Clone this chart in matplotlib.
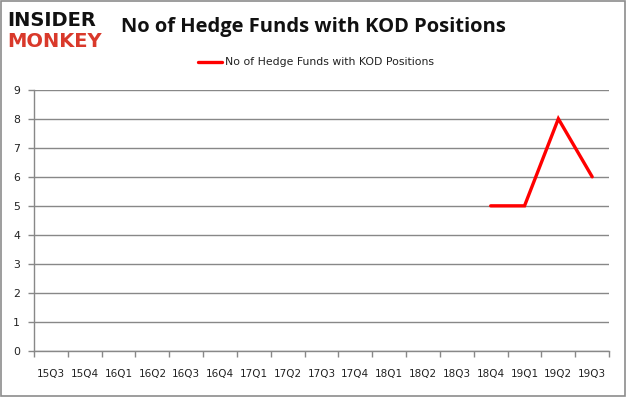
import numpy as np
import matplotlib
matplotlib.use("Agg")
import matplotlib.pyplot as plt
from matplotlib.patches import Rectangle

quarters = ["15Q3", "15Q4", "16Q1", "16Q2", "16Q3", "16Q4", "17Q1", "17Q2", "17Q3",
            "17Q4", "18Q1", "18Q2", "18Q3", "18Q4", "19Q1", "19Q2", "19Q3"]
funds = [np.nan] * 13 + [5, 5, 8, 6]
series_name = "No of Hedge Funds with KOD Positions"
title = "No of Hedge Funds with KOD Positions"
yticks = list(range(0, 10))

fig = plt.figure(figsize=(6.26, 3.97), dpi=100)
fig.patch.set_facecolor("white")
fig.patches.append(Rectangle((0.0015, 0.002), 0.997, 0.996, transform=fig.transFigure,
                             fill=False, edgecolor="#8c8c8c", linewidth=1.2))

ax = fig.add_axes([0.0543, 0.1159, 0.9187, 0.6581])
x = np.arange(len(quarters)) + 0.5
ax.plot(x, funds, color="#ff0000", linewidth=2.4, solid_capstyle="round",
        solid_joinstyle="miter", label=series_name, zorder=3)

ax.set_xlim(0, len(quarters))
ax.set_ylim(0, 9)
ax.set_yticks(yticks)
ax.set_yticklabels([str(v) for v in yticks])
ax.set_xticks(np.arange(len(quarters) + 1))
ax.set_xticklabels([])
ax.set_xticks(x, minor=True)
ax.set_xticklabels(quarters, minor=True)
ax.tick_params(axis="x", which="minor", length=0, pad=13, labelsize=7.5, colors="#222222")
ax.tick_params(axis="x", which="major", length=4, color="#888888", width=1)
ax.tick_params(axis="y", length=4, color="#888888", width=1, pad=6, labelsize=7.8,
               colors="#222222")
ax.grid(axis="y", color="#888888", linewidth=1)
ax.set_axisbelow(True)
for s in ["top", "right"]:
    ax.spines[s].set_visible(False)
for s in ["left", "bottom"]:
    ax.spines[s].set_color("#888888")
    ax.spines[s].set_linewidth(1)

fig.text(0.5, 0.932, title, ha="center", va="center", fontsize=14.5,
         fontweight="bold", family="Open Sans", color="#111111")

leg = fig.legend(loc="center", bbox_to_anchor=(0.505, 0.843), frameon=False,
                 fontsize=7.8, handlelength=2.2, handletextpad=0.3)
for t in leg.get_texts():
    t.set_color("#222222")

fig.text(0.012, 0.948, "INSIDER", ha="left", va="center", fontsize=14,
         fontweight="heavy", family="DejaVu Sans", color="#111111")
fig.text(0.012, 0.895, "MONKEY", ha="left", va="center", fontsize=14,
         fontweight="heavy", family="DejaVu Sans", color="#d9392b")

fig.savefig("out.png", dpi=100)
